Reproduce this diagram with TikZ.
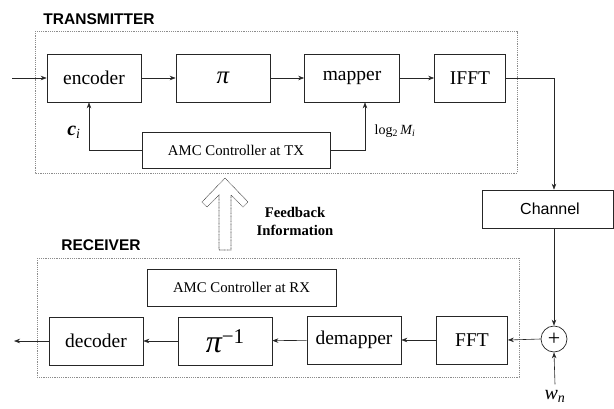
\documentclass[tikz,border=0pt]{standalone}
\usepackage{fontspec}
\setmainfont{Liberation Serif}
\newfontfamily\arialfont{Liberation Sans}
\usetikzlibrary{arrows.meta,calc}

\tikzset{
  blk/.style={draw=black!85, line width=0.7pt, minimum height=48pt, inner sep=0pt,
              font=\fontsize{19.5}{20}\selectfont},
  ctrl/.style={draw=black!85, line width=0.7pt, minimum height=36pt, inner sep=0pt,
               font=\fontsize{14.8}{15}\selectfont},
  link/.style={draw=black!85, line width=0.6pt, -{Stealth[length=6pt,width=4.5pt]}},
  frame/.style={draw=black!45, line width=0.6pt, dash pattern=on 1.2pt off 1pt},
  heading/.style={font=\arialfont\bfseries\fontsize{15.5}{16}\selectfont},
}

\begin{document}
\begin{tikzpicture}[x=1pt,y=-1pt]
\useasboundingbox (0,0) rectangle (614,408);

% section frames
\draw[frame] (35,31) rectangle (517,173);
\draw[frame] (37,258) rectangle (519,377);
\node[heading] (txlab) at (99,19) {TRANSMITTER};
\node[heading] (rxlab) at (101,245) {RECEIVER};

% transmitter chain
\node[blk, minimum width=94pt] (enc) at (94,78) {encoder};
\node[blk, minimum width=94pt] (perm) at (223,78) {\fontsize{25}{25}\selectfont\itshape π};
\node[blk, minimum width=95pt] (map) at (352,78) {mapper};
\node[blk, minimum width=71pt] (ifft) at (470,78) {IFFT};
\node[ctrl, minimum width=188pt] (amctx) at (236,150) {AMC Controller at TX};

\coordinate (src) at (12,78);
\draw[link] (src) -- (enc);
\draw[link] (enc) -- (perm);
\draw[link] (perm) -- (map);
\draw[link] (map) -- (ifft);
\draw[link] (amctx.west) -| ([xshift=-5pt]enc.south);
\draw[link] (amctx.east) -| ([xshift=13pt]map.south);
\node[font=\fontsize{20}{20}\selectfont] (cl) at (74,132) {\textbf{\textit{c}}\textsubscript{\textit{i}}};
\node[font=\fontsize{14}{14}\selectfont] (ml) at (395,131) {log\textsubscript{2}\,\textit{M\textsubscript{i}}};

% channel and noise
\node[draw=black!85, line width=0.7pt, minimum width=131pt, minimum height=38pt,
      inner sep=0pt, font=\arialfont\fontsize{16}{16}\selectfont] (chan) at (547.5,209) {\hspace*{5pt}Channel};
\node[draw=black!85, line width=0.7pt, circle, minimum size=26pt, inner sep=0pt,
      font=\fontsize{22}{22}\selectfont] (sum) at (554,339) {+};
\node[font=\fontsize{20}{20}\selectfont] (wn) at (555,396) {\textit{w\textsubscript{n}}};
\draw[link] (ifft.east) -| (sum |- chan.north);
\draw[link] (chan.south -| sum) -- (sum.north);
\draw[link] ([yshift=2pt]wn.north) -- (sum.south);

% receiver chain
\node[blk, minimum width=71pt] (fft) at (472,340) {FFT};
\node[blk, minimum width=94pt] (demap) at (354,340) {demapper};
\node[blk, minimum width=94pt] (iperm) at (225,341)
  {\fontsize{32}{32}\selectfont\itshape π\raisebox{9pt}{\fontsize{21}{21}\selectfont\upshape −1}};
\node[blk, minimum width=94pt] (dec) at (96,341) {decoder};
\node[ctrl, minimum width=189pt, minimum height=37pt] (amcrx) at (241.5,287.5) {AMC Controller at RX};

\coordinate (sink) at (14,341);
\draw[link] (sum.west) -- (fft.east);
\draw[link] (fft) -- (demap);
\draw[link] (demap) -- (iperm);
\draw[link] (iperm) -- (dec);
\draw[link] (dec.west) -- (sink);

% feedback path
\draw[draw=black!70, line width=0.6pt, dash pattern=on 1pt off 0.6pt, fill=white]
  (225,178) -- (248,202) -- (243,207) -- (231,195) -- (231,250) -- (219,250)
  -- (219,195) -- (207,207) -- (202,202) -- cycle;
\node[font=\bfseries\fontsize{14.7}{18}\selectfont, align=center] (fb) at (295,221)
  {Feedback\\Information};
\end{tikzpicture}
\end{document}
